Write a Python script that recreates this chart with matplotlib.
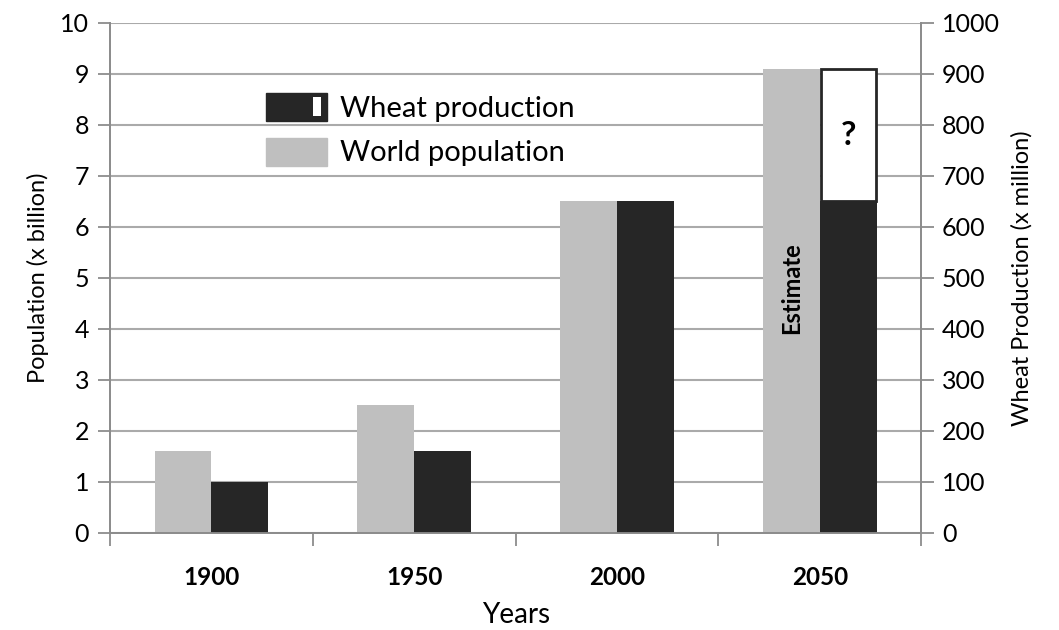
import numpy as np
import matplotlib
matplotlib.use('Agg')
import matplotlib.pyplot as plt
from matplotlib.patches import Rectangle, Patch
from matplotlib.legend_handler import HandlerBase

plt.rcParams['font.family'] = ['Lato', 'DejaVu Sans']

years = ['1900', '1950', '2000', '2050']
population = [1.6, 2.5, 6.5, 9.1]          # x billion
wheat = [100, 160, 650, 650]               # x million
wheat_needed_2050 = 910                    # x million, open top segment

GREY = '#bfbfbf'
DARK = '#262626'
AXIS = '#8c8c8c'
GRID = '#aaaaaa'


class WheatHandler(HandlerBase):
    # dark box with a white strip on its right end
    def create_artists(self, legend, orig_handle, xdescent, ydescent,
                       width, height, fontsize, trans):
        body = Rectangle((-xdescent, -ydescent), width, height,
                         facecolor=DARK, edgecolor=DARK, lw=1, transform=trans)
        strip = Rectangle((-xdescent + width * 0.76, -ydescent + height * 0.15),
                          width * 0.13, height * 0.7,
                          facecolor='white', edgecolor='none', transform=trans)
        return [body, strip]


fig = plt.figure(figsize=(10.59, 6.30), dpi=100)
ax = fig.add_axes([0.1039, 0.154, 0.766, 0.8095])
ax2 = ax.twinx()

x = np.arange(len(years))
w = 0.28

ax.set_axisbelow(True)
ax.bar(x - w / 2, population, width=w, color=GREY, zorder=2)
ax2.bar(x + w / 2, wheat, width=w, color=DARK, zorder=2)
ax2.bar(x[-1] + w / 2, wheat_needed_2050 - wheat[-1], bottom=wheat[-1], width=w * 0.97,
        facecolor='white', edgecolor=DARK, lw=2, zorder=2)

ax2.text(x[-1] + w / 2, (wheat[-1] + wheat_needed_2050) / 2, '?',
         ha='center', va='center', fontsize=24, fontweight='bold')
ax.text(x[-1] - w / 2, 4.8, 'Estimate', rotation=90, ha='center', va='center',
        fontsize=17, fontweight='bold')

ax.set_ylim(0, 10)
ax2.set_ylim(0, 1000)
ax.set_xlim(-0.5, 3.5)
ax.set_yticks(np.arange(0, 11, 1))
ax2.set_yticks(np.arange(0, 1001, 100))
ax.yaxis.grid(True, color=GRID, lw=1.5)

# year labels centred, tick marks on the category boundaries
ax.set_xticks(x)
ax.set_xticklabels(years, fontsize=17.5, fontweight='bold')
ax.set_xticks(np.arange(-0.5, 4, 1), minor=True)
ax.tick_params(axis='x', which='major', length=0, pad=24)
ax.tick_params(axis='x', which='minor', length=9, width=1.3, color=AXIS)

for a in (ax, ax2):
    a.tick_params(axis='y', length=9, width=1.3, color=AXIS, labelsize=18, pad=6)
    a.spines['top'].set_visible(False)
    for side in ('left', 'right', 'bottom'):
        a.spines[side].set_color(AXIS)
        a.spines[side].set_linewidth(1.3)

ax.set_xlabel('Years', fontsize=20, labelpad=9)
ax.set_ylabel('Population (x billion)', fontsize=17, labelpad=8)
ax2.set_ylabel('Wheat Production (x million)', fontsize=17, labelpad=8)

handles = [Patch(color=DARK), Patch(color=GREY)]
ax2.legend(handles, ['Wheat production', 'World population'],
           handler_map={handles[0]: WheatHandler()},
           loc='upper left', bbox_to_anchor=(0.16, 0.915), frameon=False,
           fontsize=21, handlelength=2.1, handleheight=1.1, handletextpad=0.45,
           labelspacing=0.55)

fig.savefig('out.png', dpi=100)
